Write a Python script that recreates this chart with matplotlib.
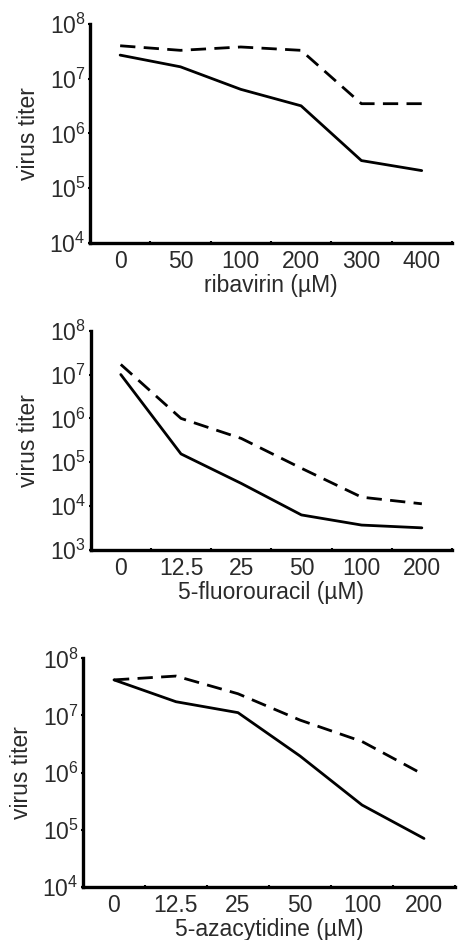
import matplotlib
matplotlib.use('Agg')
import matplotlib.pyplot as plt
from matplotlib.ticker import LogLocator, LogFormatterMathtext, FixedLocator, NullLocator

plt.rcParams['font.family'] = ['Liberation Sans', 'DejaVu Sans']
plt.rcParams['mathtext.fontset'] = 'custom'
plt.rcParams['mathtext.rm'] = 'Liberation Sans'

# ribavirin
riba_labels = ['0', '50', '100', '200', '300', '400']
riba_solid = [2.7e7, 1.65e7, 6.4e6, 3.2e6, 3.2e5, 2.1e5]
riba_dash = [4.0e7, 3.3e7, 3.8e7, 3.3e7, 3.5e6, 3.5e6]

# 5-fluorouracil
fu_labels = ['0', '12.5', '25', '50', '100', '200']
fu_solid = [1.0e7, 1.55e5, 3.3e4, 6.3e3, 3.7e3, 3.2e3]
fu_dash = [1.7e7, 1.0e6, 3.5e5, 7.3e4, 1.6e4, 1.13e4]

# 5-azacytidine
aza_labels = ['0', '12.5', '25', '50', '100', '200']
aza_solid = [4.2e7, 1.74e7, 1.12e7, 1.95e6, 2.7e5, 7.0e4]
aza_dash = [4.2e7, 4.9e7, 2.4e7, 8.3e6, 3.5e6, 9.1e5]

texto = '#2a2a2a'
tam = 16.5

fig = plt.figure(figsize=(4.61, 9.40), dpi=100)

paneles = [
    ([0.1952, 0.7415, 0.785, 0.233], riba_labels, riba_solid, riba_dash, 'ribavirin (µM)', (1e4, 1e8)),
    ([0.1967, 0.4149, 0.7837, 0.2333], fu_labels, fu_solid, fu_dash, '5-fluorouracil (µM)', (1e3, 1e8)),
    ([0.180, 0.0567, 0.807, 0.2429], aza_labels, aza_solid, aza_dash, '5-azacytidine (µM)', (1e4, 1e8)),
]

for rect, etiquetas, solido, guion, xlabel, ylim in paneles:
    ax = fig.add_axes(rect)
    x = range(len(etiquetas))
    ax.plot(x, solido, color='black', lw=2.0, solid_capstyle='round')
    ax.plot(x, guion, color='black', lw=2.0, dashes=(5.5, 3))
    ax.set_yscale('log')
    ax.set_ylim(*ylim)
    ax.set_xlim(-0.5, len(etiquetas) - 0.5)

    ax.yaxis.set_major_locator(LogLocator(base=10, numticks=10))
    ax.yaxis.set_major_formatter(LogFormatterMathtext())
    ax.yaxis.set_minor_locator(NullLocator())

    # category labels at centres, small tick marks between categories
    ax.set_xticks(list(x))
    ax.set_xticklabels(etiquetas)
    ax.xaxis.set_minor_locator(FixedLocator([i + 0.5 for i in range(-1, len(etiquetas))]))
    ax.tick_params(axis='x', which='major', length=0, pad=5, labelsize=tam, labelcolor=texto)
    ax.tick_params(axis='x', which='minor', length=2.5, width=1.5, direction='inout')
    ax.tick_params(axis='y', which='major', length=2.5, width=1.5, direction='inout',
                   pad=2, labelsize=tam, labelcolor=texto)

    for lado in ['top', 'right']:
        ax.spines[lado].set_visible(False)
    for lado in ['left', 'bottom']:
        ax.spines[lado].set_linewidth(2.4)

    ax.set_xlabel(xlabel, fontsize=tam, color=texto, labelpad=1)
    ax.set_ylabel('virus titer', fontsize=tam, color=texto, labelpad=7)

plt.savefig('out.png', dpi=100)
